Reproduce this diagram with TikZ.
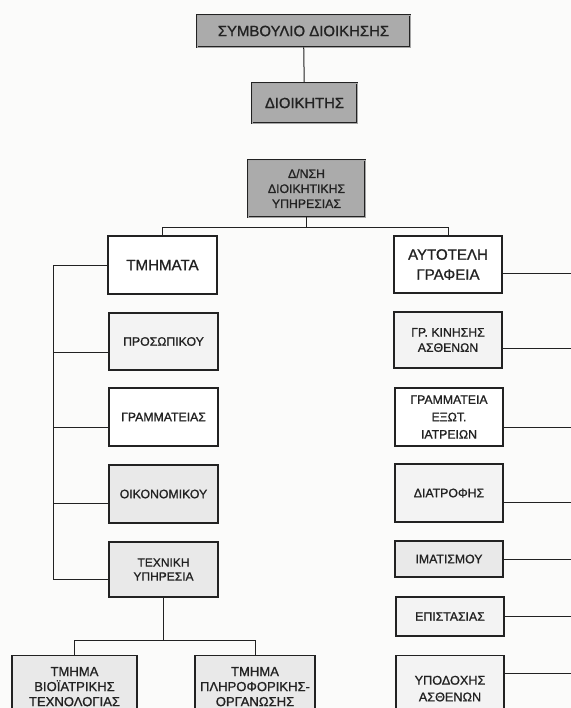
\documentclass[tikz,border=0pt]{standalone}
\usepackage{fontspec}
\setmainfont{Liberation Sans}[FakeBold=1.0]
\usetikzlibrary{calc}
\definecolor{paper}{HTML}{FBFBFA}
\definecolor{darkfill}{HTML}{ABABAB}
\definecolor{lightfill}{HTML}{E9E9E9}
\definecolor{palefill}{HTML}{F3F3F3}
\definecolor{ink}{HTML}{222222}
\tikzset{
  x=0.75pt, y=-0.75pt,
  conn/.style={draw=ink, line width=0.75pt},
  headbox/.style={draw=ink, line width=0.6pt, double=gray!70, double distance=0.7pt, fill=darkfill, align=center, inner sep=0pt, text=ink},
  bigbox/.style={draw=ink, line width=0.85pt, fill=white, align=center, inner sep=0pt, text=ink, font=\fontsize{11.3}{15}\selectfont},
  smallbox/.style={draw=ink, line width=0.85pt, fill=white, align=center, inner sep=0pt, text=ink, font=\fontsize{9.2}{11.5}\selectfont},
  footbox/.style={draw=ink, line width=0.85pt, fill=lightfill, align=center, inner xsep=0pt, text=ink, font=\fontsize{9.8}{11.3}\selectfont, anchor=north, text depth=0pt, minimum height=62*0.75pt},
}
\begin{document}
\begin{tikzpicture}
\useasboundingbox (0,0) rectangle (571,708);
\fill[paper] (0,0) rectangle (571,708);
\clip (0,0) rectangle (571,708);

% top chain
\node[headbox, minimum width=213*0.75pt, minimum height=32*0.75pt, font=\fontsize{11.2}{13}\selectfont] (sym) at (303.5,31) {ΣΥΜΒΟΥΛΙΟ ΔΙΟΙΚΗΣΗΣ};
\node[headbox, minimum width=105*0.75pt, minimum height=40*0.75pt, font=\fontsize{11.1}{13}\selectfont] (dio) at (304.5,103) {ΔΙΟΙΚΗΤΗΣ};
\node[headbox, minimum width=117*0.75pt, minimum height=57*0.75pt, font=\fontsize{9.2}{11.25}\selectfont] (dnsh) at (306.5,188.5) {Δ/ΝΣΗ\\ΔΙΟΙΚΗΤΙΚΗΣ\\ΥΠΗΡΕΣΙΑΣ};
\draw[conn] (sym) -- (dio);

% left column
\node[bigbox, minimum width=109*0.75pt, minimum height=58*0.75pt] (tmh) at (162.5,265) {ΤΜΗΜΑΤΑ};
\node[smallbox, fill=palefill, minimum width=109*0.75pt, minimum height=57*0.75pt] (pros) at (163.5,341.5) {ΠΡΟΣΩΠΙΚΟΥ};
\node[smallbox, minimum width=109*0.75pt, minimum height=58*0.75pt] (gram) at (163.5,417) {ΓΡΑΜΜΑΤΕΙΑΣ};
\node[smallbox, fill=lightfill, minimum width=109*0.75pt, minimum height=58*0.75pt] (oik) at (163.5,494) {ΟΙΚΟΝΟΜΙΚΟΥ};
\node[smallbox, fill=lightfill, minimum width=109*0.75pt, minimum height=55*0.75pt, font=\fontsize{9}{10.5}\selectfont] (tex) at (163.5,569.5) {ΤΕΧΝΙΚΗ\\ΥΠΗΡΕΣΙΑ};
\node[footbox, minimum width=125*0.75pt] (bio) at (74.5,655) {ΤΜΗΜΑ\\ΒΙΟΪΑΤΡΙΚΗΣ\\ΤΕΧΝΟΛΟΓΙΑΣ};
\node[footbox, minimum width=120*0.75pt] (plir) at (255,655) {ΤΜΗΜΑ\\ΠΛΗΡΟΦΟΡΙΚΗΣ-\\ΟΡΓΑΝΩΣΗΣ};

% right column
\node[bigbox, minimum width=108*0.75pt, minimum height=57*0.75pt] (auto) at (448,264.5) {ΑΥΤΟΤΕΛΗ\\ΓΡΑΦΕΙΑ};
\node[smallbox, fill=palefill, minimum width=108*0.75pt, minimum height=56*0.75pt] (kin) at (448,340) {ΓΡ. ΚΙΝΗΣΗΣ\\ΑΣΘΕΝΩΝ};
\node[smallbox, minimum width=108*0.75pt, minimum height=58*0.75pt, font=\fontsize{9.2}{13}\selectfont] (gex) at (449,417) {ΓΡΑΜΜΑΤΕΙΑ\\ΕΞΩΤ.\\ΙΑΤΡΕΙΩΝ};
\node[smallbox, fill=palefill, minimum width=108*0.75pt, minimum height=58*0.75pt] (diat) at (449,493) {ΔΙΑΤΡΟΦΗΣ};
\node[smallbox, fill=lightfill, minimum width=108*0.75pt, minimum height=36*0.75pt] (imat) at (449,559) {ΙΜΑΤΙΣΜΟΥ};
\node[smallbox, fill=palefill, minimum width=108*0.75pt, minimum height=39*0.75pt] (epis) at (450,616.5) {ΕΠΙΣΤΑΣΙΑΣ};
\node[footbox, fill=palefill, minimum width=108*0.75pt, minimum height=66*0.75pt, font=\fontsize{9.5}{12.5}\selectfont] (ypod) at (450,655) {ΥΠΟΔΟΧΗΣ\\ΑΣΘΕΝΩΝ};

% split under director
\draw[conn] (dnsh.south) -- ++(0,10) coordinate (split);
\draw[conn] (tmh.north) |- (split) -| (auto.north);

% left bracket
\draw[conn] (tmh.west) -| ($(tex.west)+(-55,9.5)$) -- ($(tex.west)+(0,9.5)$);
\draw[conn] ($(pros.west)+(0,10.5)$) -- ++(-55,0);
\draw[conn] ($(gram.west)+(0,10)$) -- ++(-55,0);
\draw[conn] ($(oik.west)+(0,9)$) -- ++(-55,0);

% technical service split
\draw[conn] (tex.south) -- ++(0,43) coordinate (tsplit);
\draw[conn] (bio.north) |- (tsplit) -| (plir.north);

% right side connectors to page edge
\draw[conn] ($(auto.east)+(0,8.5)$) -- ++(90,0);
\draw[conn] ($(kin.east)+(0,8)$) -- ++(90,0);
\draw[conn] ($(gex.east)+(0,10)$) -- ++(90,0);
\draw[conn] ($(diat.east)+(0,9)$) -- ++(90,0);
\draw[conn] (imat.east) -- ++(90,0);
\draw[conn] (epis.east) -- ++(90,0);
\draw[conn] ($(ypod.north east)+(0,18)$) -- ++(90,0);
\end{tikzpicture}
\end{document}
